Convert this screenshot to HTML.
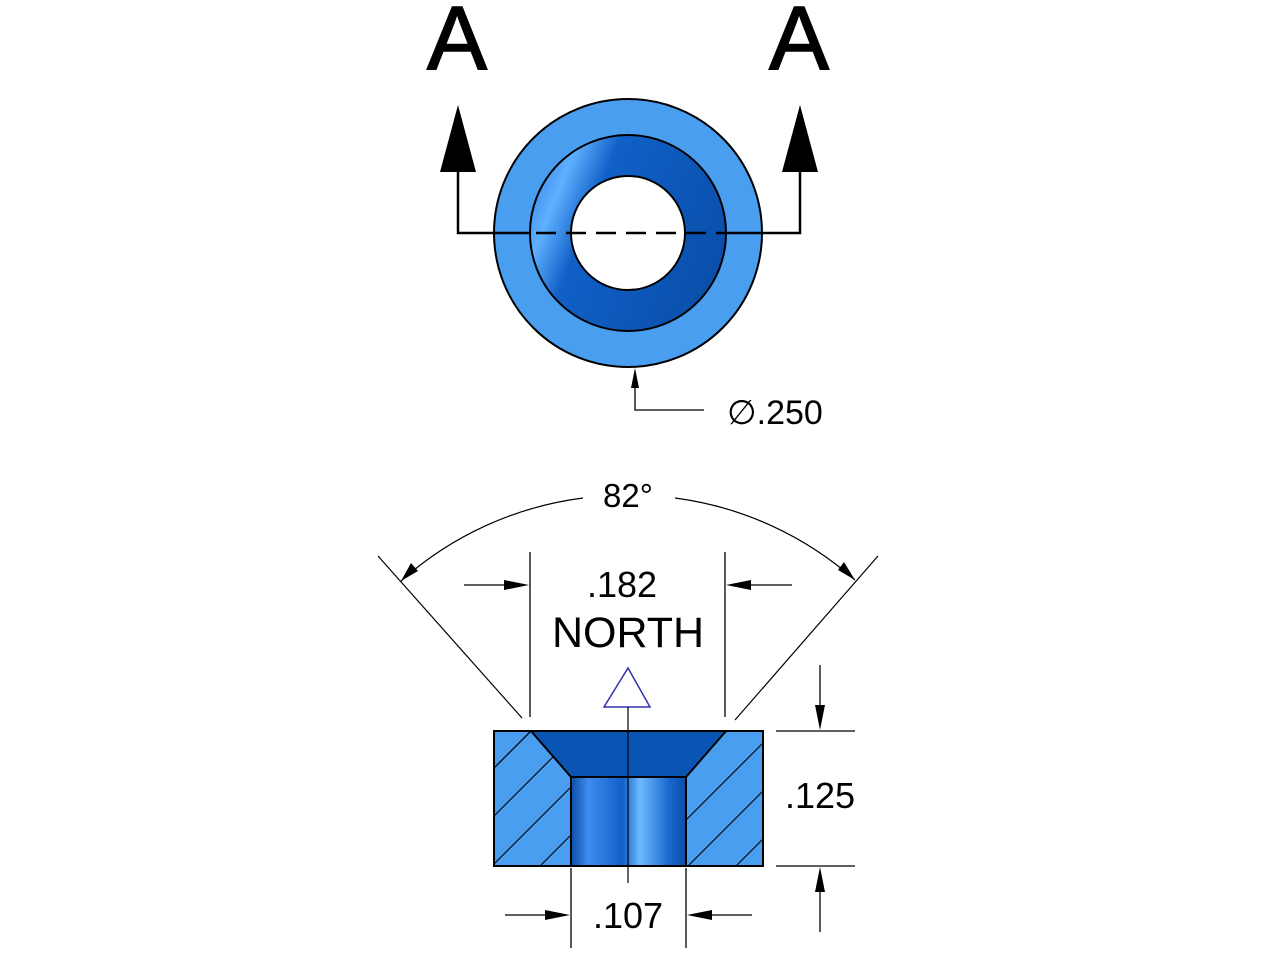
<!DOCTYPE html>
<html><head><meta charset="utf-8"><style>
html,body{margin:0;padding:0;background:#fff;width:1280px;height:960px;overflow:hidden}
svg{display:block}
text{font-family:"Liberation Sans",sans-serif;fill:#000}
</style></head><body>
<svg width="1280" height="960" viewBox="0 0 1280 960" xmlns="http://www.w3.org/2000/svg">
<defs>
<linearGradient id="cone" x1="0" y1="0.3" x2="1" y2="0.7">
<stop offset="0" stop-color="#3f8ff0"/><stop offset="0.12" stop-color="#5fb0ff"/><stop offset="0.3" stop-color="#1060c8"/><stop offset="1" stop-color="#0a4ea8"/>
</linearGradient>
<linearGradient id="bore" x1="0" y1="0" x2="1" y2="0">
<stop offset="0" stop-color="#0a4ea8"/><stop offset="0.15" stop-color="#3d8cf0"/><stop offset="0.45" stop-color="#1060c8"/><stop offset="0.6" stop-color="#6fbaff"/><stop offset="0.85" stop-color="#1a68d0"/><stop offset="1" stop-color="#0a4ea8"/>
</linearGradient>
<clipPath id="hl"><polygon points="494,731 531,731 571,777 571,866 494,866"/></clipPath>
<clipPath id="hr"><polygon points="726,731 763,731 763,866 686,866 686,777"/></clipPath>
</defs>

<text x="457" y="69" font-size="90" text-anchor="middle" stroke="#000" stroke-width="1.5">A</text>
<text x="799" y="69" font-size="90" text-anchor="middle" stroke="#000" stroke-width="1.5">A</text>

<circle cx="628" cy="233" r="134" fill="#4a9ef0" stroke="#000" stroke-width="2"/>
<circle cx="628" cy="233" r="98" fill="url(#cone)" stroke="#000" stroke-width="2"/>
<circle cx="628" cy="233" r="57" fill="#fff" stroke="#000" stroke-width="2"/>

<polyline points="458,172 458,233 530,233" fill="none" stroke="#000" stroke-width="2.5"/>
<polyline points="726,233 800,233 800,172" fill="none" stroke="#000" stroke-width="2.5"/>
<line x1="536" y1="233" x2="726" y2="233" stroke="#000" stroke-width="2.5" stroke-dasharray="20,10"/>
<polygon points="458,105 440,172 476,172" fill="#000"/>
<polygon points="800,105 782,172 818,172" fill="#000"/>

<polyline points="635,385 635,410 704,410" fill="none" stroke="#000" stroke-width="1.3"/>
<polygon points="635,368 631,388 639,388" fill="#000"/>
<text x="727" y="424" font-size="34">∅.250</text>

<line x1="378" y1="556" x2="522" y2="718" stroke="#000" stroke-width="1.2"/>
<line x1="878" y1="556" x2="735" y2="720" stroke="#000" stroke-width="1.2"/>
<path d="M401,581 A338,338 0 0 1 583,498" fill="none" stroke="#000" stroke-width="1.2"/>
<path d="M675,498 A338,338 0 0 1 855,580" fill="none" stroke="#000" stroke-width="1.2"/>
<polygon points="401,581 411,563 418,571" fill="#000"/>
<polygon points="855,580 838,570 844,562" fill="#000"/>
<text x="628" y="507" font-size="33" text-anchor="middle">82°</text>

<line x1="530" y1="552" x2="530" y2="717" stroke="#000" stroke-width="1.3"/>
<line x1="725" y1="552" x2="725" y2="717" stroke="#000" stroke-width="1.3"/>
<line x1="464" y1="585" x2="512" y2="585" stroke="#000" stroke-width="1.3"/>
<polygon points="529,585 504,580 504,590" fill="#000"/>
<line x1="742" y1="585" x2="792" y2="585" stroke="#000" stroke-width="1.3"/>
<polygon points="726,585 751,580 751,590" fill="#000"/>
<text x="622" y="597" font-size="36" text-anchor="middle">.182</text>
<text x="628" y="647" font-size="43" text-anchor="middle">NORTH</text>

<polygon points="628,668 604,707 650,707" fill="#fff" stroke="#3030b0" stroke-width="1.5"/>

<rect x="494" y="731" width="269" height="135" fill="#4a9ef0"/>
<g clip-path="url(#hl)" stroke="#000" stroke-width="1.1">
<line x1="444" y1="866" x2="594" y2="716"/><line x1="492" y1="866" x2="642" y2="716"/><line x1="540" y1="866" x2="690" y2="716"/><line x1="396" y1="866" x2="546" y2="716"/><line x1="444" y1="818" x2="594" y2="668"/>
</g>
<g clip-path="url(#hr)" stroke="#000" stroke-width="1.1">
<line x1="640" y1="866" x2="790" y2="716"/><line x1="688" y1="866" x2="838" y2="716"/><line x1="736" y1="866" x2="886" y2="716"/><line x1="592" y1="866" x2="742" y2="716"/>
</g>
<polygon points="531,731 726,731 686,777 571,777" fill="#0a55b4" stroke="#000" stroke-width="2"/>
<rect x="571" y="777" width="115" height="89" fill="url(#bore)" stroke="#000" stroke-width="2"/>
<rect x="494" y="731" width="269" height="135" fill="none" stroke="#000" stroke-width="2"/>
<line x1="628" y1="707" x2="628" y2="883" stroke="#000" stroke-width="1.2"/>

<line x1="776" y1="731" x2="855" y2="731" stroke="#000" stroke-width="1.3"/>
<line x1="776" y1="866" x2="855" y2="866" stroke="#000" stroke-width="1.3"/>
<line x1="820" y1="665" x2="820" y2="712" stroke="#000" stroke-width="1.3"/>
<polygon points="820,730 815,705 825,705" fill="#000"/>
<line x1="820" y1="885" x2="820" y2="932" stroke="#000" stroke-width="1.3"/>
<polygon points="820,867 815,892 825,892" fill="#000"/>
<text x="820" y="808" font-size="36" text-anchor="middle">.125</text>

<line x1="571" y1="868" x2="571" y2="948" stroke="#000" stroke-width="1.3"/>
<line x1="686" y1="868" x2="686" y2="948" stroke="#000" stroke-width="1.3"/>
<line x1="505" y1="915" x2="553" y2="915" stroke="#000" stroke-width="1.3"/>
<polygon points="570,915 545,910 545,920" fill="#000"/>
<line x1="704" y1="915" x2="752" y2="915" stroke="#000" stroke-width="1.3"/>
<polygon points="687,915 712,910 712,920" fill="#000"/>
<text x="628" y="928" font-size="36" text-anchor="middle">.107</text>
</svg>
</body></html>
